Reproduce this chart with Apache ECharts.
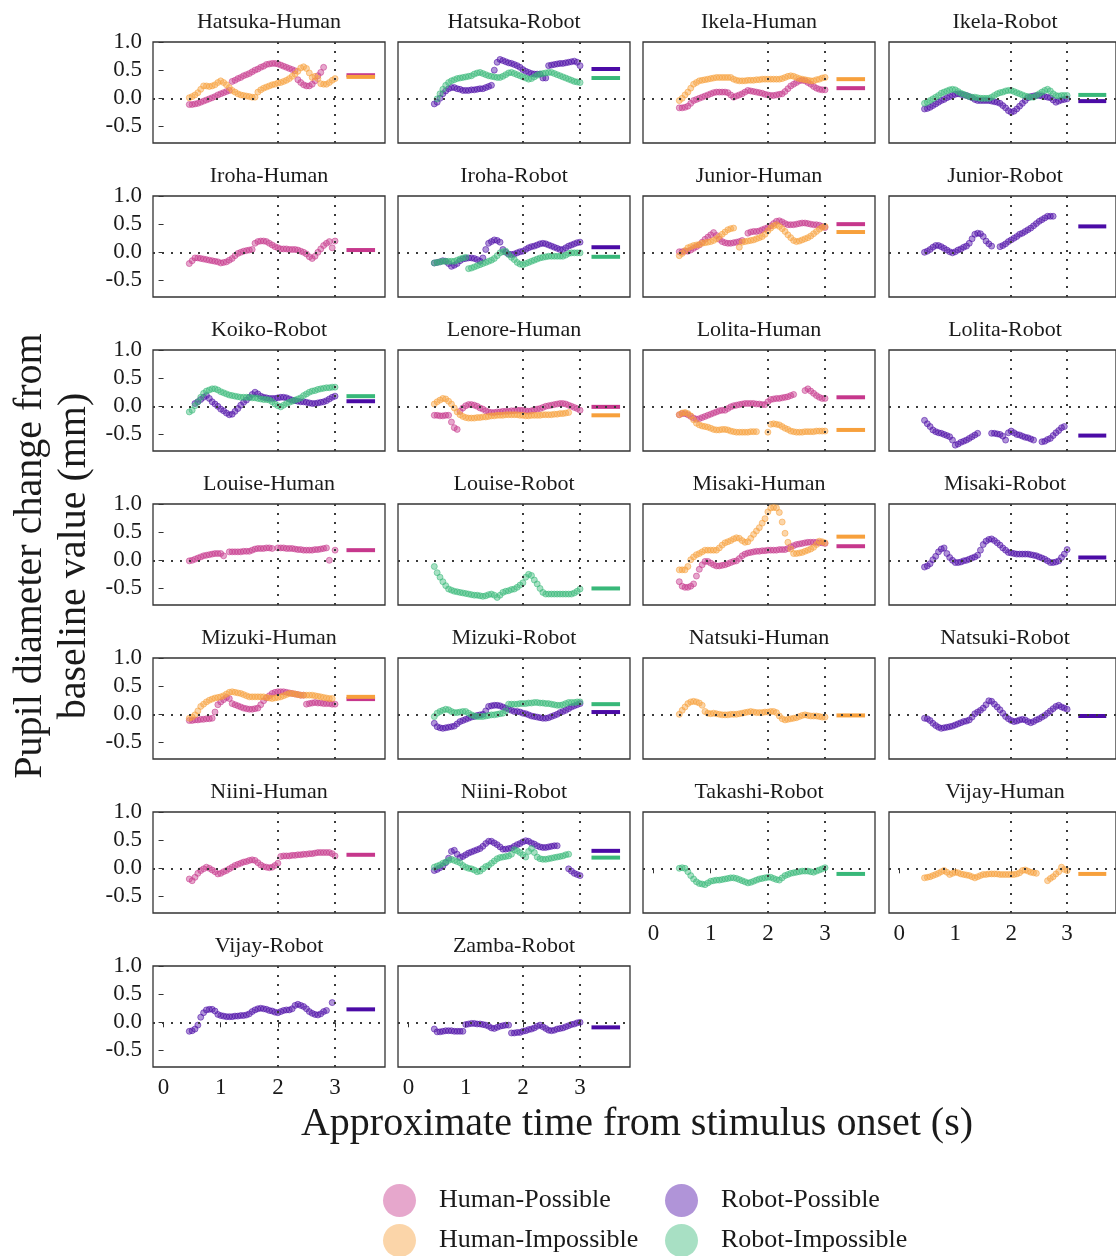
<!DOCTYPE html>
<html>
<head>
<meta charset="utf-8">
<script src="https://cdn.jsdelivr.net/npm/echarts@6/dist/echarts.min.js"></script>
<style>
html, body { margin: 0; padding: 0; background: #fff; }
#chart { width: 1116px; height: 1256px; }
</style>
</head>
<body>
<div id="chart"></div>
<script>
// sample times (s) shared by every trace
const times = [0.45, 0.5, 0.55, 0.6, 0.65, 0.7, 0.75, 0.8, 0.85, 0.9,
  0.95, 1, 1.05, 1.1, 1.15, 1.2, 1.25, 1.3, 1.35, 1.4,
  1.45, 1.5, 1.55, 1.6, 1.65, 1.7, 1.75, 1.8, 1.85, 1.9,
  1.95, 2, 2.05, 2.1, 2.15, 2.2, 2.25, 2.3, 2.35, 2.4,
  2.45, 2.5, 2.55, 2.6, 2.65, 2.7, 2.75, 2.8, 2.85, 2.9,
  2.95, 3]

const conditions = ["Human-Possible", "Human-Impossible", "Robot-Possible", "Robot-Impossible"]
const condColors = ["#c6378c", "#f7a03c", "#4b0ba6", "#38b879"]

const panelNames = ["Hatsuka-Human", "Hatsuka-Robot", "Ikela-Human", "Ikela-Robot",
  "Iroha-Human", "Iroha-Robot", "Junior-Human", "Junior-Robot",
  "Koiko-Robot", "Lenore-Human", "Lolita-Human", "Lolita-Robot",
  "Louise-Human", "Louise-Robot", "Misaki-Human", "Misaki-Robot",
  "Mizuki-Human", "Mizuki-Robot", "Natsuki-Human", "Natsuki-Robot",
  "Niini-Human", "Niini-Robot", "Takashi-Robot", "Vijay-Human",
  "Vijay-Robot", "Zamba-Robot"]

const yTicks = [-0.5, 0, 0.5, 1]
const xTicks = [0, 1, 2, 3]

// pupil change traces (mm), one value per entry of times, null = no sample
const hatsukaHumanHP = [-0.11, -0.11, -0.10, -0.09, -0.07, -0.05, -0.03, -0.01, 0.01, 0.03,
  0.06, 0.08, 0.10, 0.12, 0.14, 0.30, 0.32, 0.35, 0.37, 0.40,
  0.42, 0.44, 0.47, 0.50, 0.52, 0.55, 0.57, 0.60, 0.61, 0.62,
  0.62, 0.61, 0.59, 0.57, 0.55, 0.53, 0.51, 0.49, 0.33, 0.28,
  0.24, 0.22, 0.22, 0.25, 0.31, 0.40, 0.46, 0.55, null, null,
  null, null]
const hatsukaHumanHI = [0.01, 0.03, 0.06, 0.10, 0.16, 0.22, 0.22, 0.21, 0.22, 0.24,
  0.28, 0.31, 0.28, 0.24, 0.19, 0.14, 0.11, 0.08, 0.06, 0.05,
  0.04, 0.03, 0.02, 0.02, 0.11, 0.15, 0.18, 0.20, 0.22, 0.24,
  0.25, 0.27, 0.28, 0.30, 0.32, 0.35, 0.39, 0.43, 0.48, 0.54,
  0.56, 0.53, 0.45, 0.37, 0.39, 0.35, 0.26, 0.25, 0.25, 0.28,
  0.32, 0.35]
const hatsukaRobotRP = [-0.10, -0.07, 0.00, 0.08, 0.13, 0.17, 0.19, 0.19, 0.17, 0.16,
  0.14, 0.14, 0.14, 0.15, 0.15, 0.16, 0.17, 0.17, 0.19, 0.21,
  0.23, 0.50, 0.64, 0.69, 0.67, 0.65, 0.63, 0.62, 0.60, 0.58,
  0.55, 0.51, 0.48, 0.46, 0.44, 0.43, 0.43, 0.43, 0.36, 0.36,
  0.58, 0.59, 0.60, 0.61, 0.62, 0.62, 0.63, 0.64, 0.65, 0.66,
  0.64, 0.58]
const hatsukaRobotRI = [null, -0.01, 0.08, 0.16, 0.23, 0.28, 0.31, 0.33, 0.35, 0.36,
  0.37, 0.38, 0.39, 0.40, 0.43, 0.45, 0.46, 0.44, 0.42, 0.40,
  0.39, 0.38, 0.37, 0.37, 0.39, 0.42, 0.45, 0.46, 0.44, 0.42,
  0.40, 0.38, 0.36, 0.34, 0.35, 0.38, 0.41, 0.43, 0.44, 0.45,
  0.46, 0.46, 0.44, 0.42, 0.40, 0.38, 0.36, 0.34, 0.32, 0.30,
  0.29, 0.28]
const ikelaHumanHP = [-0.17, -0.17, -0.16, -0.14, -0.09, -0.04, -0.02, 0.00, 0.02, 0.04,
  0.06, 0.08, 0.10, 0.11, 0.11, 0.11, 0.11, 0.10, 0.06, 0.02,
  0.04, 0.06, 0.08, 0.11, 0.14, 0.13, 0.12, 0.11, 0.10, 0.09,
  0.07, 0.06, 0.05, 0.05, 0.06, 0.07, 0.08, 0.12, 0.17, 0.22,
  0.25, 0.28, 0.31, 0.32, 0.31, 0.28, 0.25, 0.21, 0.18, 0.16,
  0.15, 0.15]
const ikelaHumanHI = [-0.04, 0.00, 0.06, 0.11, 0.18, 0.25, 0.28, 0.31, 0.32, 0.33,
  0.34, 0.35, 0.36, 0.37, 0.37, 0.37, 0.37, 0.37, 0.37, 0.34,
  0.32, 0.31, 0.31, 0.31, 0.32, 0.32, 0.32, 0.33, 0.33, 0.34,
  0.34, 0.34, 0.34, 0.34, 0.34, 0.34, 0.35, 0.37, 0.39, 0.40,
  0.39, 0.37, 0.35, 0.34, 0.33, 0.32, 0.31, 0.31, 0.33, 0.34,
  0.36, 0.37]
const ikelaRobotRP = [-0.19, -0.18, -0.16, -0.13, -0.10, -0.07, -0.04, -0.02, 0.01, 0.03,
  0.05, 0.07, 0.08, 0.07, 0.06, 0.05, 0.03, 0.01, -0.02, -0.04,
  -0.04, -0.04, -0.04, -0.04, -0.05, -0.06, -0.07, -0.09, -0.13, -0.17,
  -0.22, -0.25, -0.23, -0.19, -0.14, -0.09, -0.04, 0.01, 0.03, 0.04,
  0.05, 0.05, 0.04, 0.03, 0.02, 0.01, -0.03, -0.07, -0.05, -0.03,
  -0.02, -0.01]
const ikelaRobotRI = [-0.09, -0.07, -0.04, -0.01, 0.02, 0.05, 0.09, 0.11, 0.13, 0.15,
  0.16, 0.15, 0.12, 0.09, 0.07, 0.05, 0.03, 0.02, 0.02, 0.01,
  0.00, 0.00, 0.00, 0.00, 0.02, 0.05, 0.08, 0.10, 0.11, 0.13,
  0.14, 0.14, 0.12, 0.10, 0.08, 0.06, 0.04, 0.03, 0.02, 0.02,
  0.05, 0.08, 0.11, 0.14, 0.16, 0.13, 0.08, 0.05, 0.04, 0.05,
  0.05, 0.05]
const irohaHumanHP = [-0.20, -0.15, -0.10, -0.10, -0.11, -0.12, -0.13, -0.14, -0.15, -0.16,
  -0.17, -0.19, -0.18, -0.17, -0.14, -0.11, -0.06, -0.02, 0.00, 0.02,
  0.03, 0.04, 0.05, 0.16, 0.19, 0.20, 0.20, 0.19, 0.16, 0.13,
  0.10, 0.08, 0.06, 0.06, 0.06, 0.05, 0.05, 0.05, 0.04, 0.02,
  0.00, -0.03, -0.08, -0.11, -0.07, 0.00, 0.06, 0.12, 0.16, 0.19,
  0.08, 0.20]
const irohaRobotRP = [-0.19, -0.18, -0.17, -0.15, -0.16, -0.20, -0.25, -0.23, -0.20, -0.15,
  -0.12, -0.11, -0.10, -0.10, -0.11, -0.13, -0.16, -0.10, 0.05, 0.16,
  0.19, 0.22, 0.21, 0.18, 0.05, 0.00, -0.03, -0.04, -0.03, -0.01,
  0.01, 0.02, 0.05, 0.08, 0.10, 0.11, 0.13, 0.15, 0.16, 0.15,
  0.13, 0.11, 0.09, 0.07, 0.05, 0.05, 0.08, 0.11, 0.13, 0.15,
  0.17, 0.18]
const irohaRobotRI = [-0.19, -0.18, -0.17, -0.16, -0.16, -0.16, -0.16, -0.16, -0.14, -0.12,
  -0.10, -0.09, -0.29, -0.28, -0.26, -0.24, -0.22, -0.20, -0.18, -0.16,
  -0.14, -0.11, -0.06, -0.01, 0.01, 0.02, -0.04, -0.09, -0.13, -0.18,
  -0.21, -0.22, -0.20, -0.18, -0.16, -0.14, -0.12, -0.10, -0.09, -0.08,
  -0.07, -0.07, -0.07, -0.07, -0.07, -0.07, -0.05, -0.02, -0.01, -0.01,
  -0.01, -0.01]
const juniorHumanHP = [0.01, 0.01, 0.02, 0.02, 0.04, 0.07, 0.10, 0.13, 0.18, 0.23,
  0.27, 0.31, 0.35, 0.30, 0.23, 0.19, 0.17, 0.16, 0.16, 0.17,
  0.18, 0.19, 0.21, null, 0.34, 0.36, 0.37, 0.37, 0.38, 0.40,
  0.42, 0.44, 0.47, 0.51, 0.55, 0.56, 0.54, 0.51, 0.49, 0.49,
  0.49, 0.50, 0.51, 0.52, 0.52, 0.51, 0.50, 0.49, 0.49, 0.48,
  0.46, 0.44]
const juniorHumanHI = [-0.06, -0.02, 0.03, 0.08, 0.10, 0.12, 0.13, 0.14, 0.16, 0.17,
  0.18, 0.19, 0.21, 0.24, 0.28, 0.32, 0.36, 0.40, 0.42, 0.43,
  null, 0.09, 0.18, 0.19, 0.20, 0.21, 0.22, 0.24, 0.26, 0.28,
  0.32, 0.38, 0.43, 0.47, 0.49, 0.46, 0.42, 0.37, 0.31, 0.26,
  0.21, 0.19, 0.20, 0.22, 0.24, 0.26, 0.29, 0.33, 0.37, 0.41,
  0.44, 0.46]
const juniorRobotRP = [0.00, 0.02, 0.05, 0.09, 0.12, 0.12, 0.10, 0.07, 0.04, 0.01,
  -0.01, 0.01, 0.04, 0.06, 0.09, 0.11, 0.16, 0.24, 0.32, 0.34,
  0.33, 0.28, 0.20, 0.15, 0.11, null, null, 0.10, 0.12, 0.15,
  0.19, 0.22, 0.25, 0.28, 0.32, 0.34, 0.37, 0.40, 0.43, 0.47,
  0.51, 0.55, 0.58, 0.61, 0.64, 0.64, 0.64, null, null, null,
  null, null]
const koikoRobotRP = [null, null, 0.05, 0.08, 0.12, 0.16, 0.19, 0.14, 0.08, 0.04,
  0.00, -0.05, -0.08, -0.12, -0.15, -0.14, -0.09, -0.04, 0.02, 0.07,
  0.11, 0.16, 0.21, 0.25, 0.22, 0.18, 0.16, 0.15, 0.14, 0.14,
  0.14, 0.15, 0.16, 0.16, 0.15, 0.13, 0.11, 0.10, 0.09, 0.08,
  0.08, 0.07, 0.06, 0.05, 0.05, 0.06, 0.07, 0.08, 0.10, 0.13,
  0.16, 0.18]
const koikoRobotRI = [-0.10, -0.07, 0.01, 0.08, 0.16, 0.23, 0.27, 0.29, 0.31, 0.31,
  0.29, 0.26, 0.24, 0.22, 0.20, 0.19, 0.18, 0.17, 0.16, 0.16,
  0.16, 0.16, 0.15, 0.15, 0.14, 0.13, 0.12, 0.12, 0.11, 0.08,
  0.04, 0.01, -0.01, 0.02, 0.05, 0.07, 0.09, 0.11, 0.13, 0.15,
  0.19, 0.22, 0.25, 0.27, 0.28, 0.30, 0.31, 0.32, 0.33, 0.33,
  0.34, 0.34]
const lenoreHumanHP = [-0.16, -0.16, -0.17, -0.17, -0.16, -0.16, -0.28, -0.38, -0.41, -0.09,
  -0.03, 0.01, 0.03, 0.03, 0.02, 0.00, -0.03, -0.05, -0.08, -0.10,
  -0.11, -0.11, -0.10, -0.10, -0.09, -0.09, -0.09, -0.08, -0.08, -0.07,
  -0.07, -0.07, -0.08, -0.09, -0.08, -0.06, -0.05, -0.04, -0.02, 0.00,
  0.01, 0.02, 0.03, 0.04, 0.05, 0.05, 0.04, 0.02, 0.00, -0.02,
  -0.04, -0.07]
const lenoreHumanHI = [0.04, 0.08, 0.11, 0.14, 0.13, 0.09, 0.04, -0.03, -0.10, -0.15,
  -0.18, -0.20, -0.21, -0.21, -0.21, -0.20, -0.20, -0.19, -0.19, -0.18,
  -0.17, -0.17, -0.16, -0.16, -0.16, -0.15, -0.15, -0.15, -0.15, -0.15,
  -0.16, -0.16, -0.17, -0.17, -0.16, -0.16, -0.16, -0.16, -0.15, -0.15,
  -0.15, -0.15, -0.14, -0.14, -0.13, -0.13, -0.12, -0.11, null, null,
  null, null]
const lolitaHumanHP = [-0.15, -0.13, -0.13, -0.15, -0.18, -0.21, -0.23, -0.22, -0.20, -0.18,
  -0.16, -0.14, -0.12, -0.10, -0.08, -0.07, -0.07, -0.04, -0.01, 0.01,
  0.02, 0.03, 0.04, 0.05, 0.05, 0.05, 0.05, 0.04, 0.04, 0.03,
  0.03, 0.08, 0.12, 0.13, 0.14, 0.14, 0.15, 0.16, 0.17, 0.19,
  0.21, null, null, null, 0.28, 0.31, 0.27, 0.23, 0.19, 0.16,
  0.14, 0.14]
const lolitaHumanHI = [-0.15, -0.12, -0.11, -0.13, -0.17, -0.24, -0.30, -0.33, -0.35, -0.36,
  -0.37, -0.39, -0.41, -0.42, -0.42, -0.41, -0.41, -0.42, -0.44, -0.45,
  -0.46, -0.46, -0.46, -0.46, -0.46, -0.45, -0.45, -0.45, null, null,
  null, -0.46, -0.32, -0.31, -0.32, -0.33, -0.36, -0.39, -0.41, -0.44,
  -0.45, -0.46, -0.46, -0.46, -0.45, -0.45, -0.45, -0.45, -0.44, -0.44,
  -0.44, -0.44]
const lolitaRobotRP = [-0.25, -0.31, -0.36, -0.42, -0.45, -0.47, -0.48, -0.50, -0.52, -0.54,
  -0.60, -0.69, -0.67, -0.64, -0.62, -0.60, -0.57, -0.54, -0.51, -0.48,
  null, null, null, null, -0.48, -0.48, -0.49, -0.50, -0.53, -0.60,
  -0.47, -0.44, -0.47, -0.50, -0.51, -0.53, -0.55, -0.56, -0.58, -0.60,
  null, null, -0.63, -0.62, -0.59, -0.57, -0.52, -0.47, -0.43, -0.38,
  -0.36, null]
const louiseHumanHP = [-0.01, 0.00, 0.02, 0.04, 0.06, 0.08, 0.09, 0.10, 0.11, 0.12,
  0.12, 0.12, 0.08, null, 0.15, 0.15, 0.15, 0.15, 0.15, 0.16,
  0.16, 0.16, 0.18, 0.20, 0.21, 0.21, 0.21, 0.22, 0.22, 0.21,
  null, 0.22, 0.22, 0.22, 0.21, 0.21, 0.21, 0.20, 0.19, 0.19,
  0.18, 0.18, 0.18, 0.18, 0.19, 0.19, 0.20, 0.21, 0.22, 0.00,
  null, 0.18]
const louiseRobotRI = [-0.11, -0.22, -0.30, -0.38, -0.45, -0.51, -0.53, -0.55, -0.56, -0.57,
  -0.58, -0.59, -0.60, -0.61, -0.62, -0.62, -0.63, -0.64, -0.63, -0.61,
  -0.60, -0.62, -0.66, -0.62, -0.57, -0.55, -0.54, -0.52, -0.51, -0.48,
  -0.44, -0.40, -0.30, -0.25, -0.27, -0.35, -0.42, -0.50, -0.57, -0.60,
  -0.60, -0.60, -0.60, -0.60, -0.60, -0.60, -0.60, -0.60, -0.60, -0.58,
  -0.55, -0.51]
const misakiHumanHP = [-0.38, -0.46, -0.48, -0.48, -0.46, -0.42, -0.28, -0.16, -0.08, -0.02,
  -0.02, -0.05, -0.08, -0.10, -0.10, -0.09, -0.08, -0.06, -0.04, -0.02,
  -0.01, 0.03, 0.08, 0.11, 0.13, 0.14, 0.15, 0.16, 0.16, 0.17,
  0.17, 0.18, 0.18, 0.18, 0.18, 0.19, 0.19, 0.19, 0.21, 0.24,
  0.26, 0.28, 0.29, 0.30, 0.31, 0.32, 0.32, 0.32, 0.32, 0.31,
  0.31, 0.30]
const misakiHumanHI = [-0.17, -0.17, -0.17, -0.11, 0.01, 0.06, 0.10, 0.12, 0.15, 0.18,
  0.18, 0.18, 0.18, 0.18, 0.22, 0.27, 0.31, 0.33, 0.35, 0.38,
  0.40, 0.39, 0.35, 0.32, 0.33, 0.39, 0.46, 0.52, 0.58, 0.66,
  0.74, 0.86, 0.93, 0.94, 0.93, 0.85, 0.68, 0.48, 0.32, 0.20,
  0.12, 0.12, 0.13, 0.14, 0.16, 0.18, 0.20, 0.23, 0.28, 0.34,
  0.33, 0.31]
const misakiRobotRP = [-0.12, -0.10, -0.06, 0.01, 0.07, 0.15, 0.20, 0.22, 0.12, 0.05,
  0.00, -0.04, -0.04, -0.03, -0.01, 0.00, 0.02, 0.04, 0.06, 0.09,
  0.18, 0.28, 0.34, 0.37, 0.38, 0.35, 0.31, 0.27, 0.22, 0.18,
  0.14, 0.13, 0.12, 0.11, 0.11, 0.11, 0.11, 0.11, 0.10, 0.09,
  0.08, 0.06, 0.04, 0.02, -0.01, -0.04, -0.04, -0.03, -0.01, 0.05,
  0.11, 0.19]
const mizukiHumanHP = [-0.11, -0.11, -0.10, -0.10, -0.09, -0.09, -0.08, -0.08, -0.07, 0.04,
  0.17, 0.22, 0.26, 0.30, 0.28, 0.19, 0.17, 0.15, 0.13, 0.11,
  0.10, 0.09, 0.09, 0.10, 0.11, 0.17, 0.24, 0.29, 0.33, 0.37,
  0.39, 0.40, 0.40, 0.40, 0.39, 0.38, 0.37, 0.36, 0.35, 0.34,
  0.34, 0.18, 0.19, 0.20, 0.21, 0.20, 0.20, 0.19, 0.19, 0.19,
  0.18, 0.18]
const mizukiHumanHI = [-0.07, -0.05, -0.01, 0.06, 0.14, 0.18, 0.22, 0.25, 0.27, 0.29,
  0.30, 0.31, 0.33, 0.36, 0.39, 0.40, 0.39, 0.38, 0.37, 0.35,
  0.33, 0.31, 0.31, 0.31, 0.31, 0.31, 0.31, 0.30, 0.29, 0.28,
  0.29, 0.30, 0.31, 0.33, 0.35, 0.37, 0.37, 0.36, 0.35, 0.34,
  0.34, 0.34, 0.34, 0.34, 0.33, 0.32, 0.31, 0.30, 0.29, 0.28,
  0.28, null]
const mizukiRobotRP = [-0.16, -0.22, -0.24, -0.25, -0.24, -0.23, -0.22, -0.21, -0.17, -0.13,
  -0.11, -0.09, -0.07, -0.05, -0.04, -0.02, -0.01, 0.00, 0.06, 0.14,
  0.15, 0.16, 0.16, 0.15, 0.13, 0.11, 0.09, 0.07, 0.05, 0.05,
  0.04, 0.02, 0.01, -0.01, -0.03, -0.04, -0.05, -0.06, -0.07, -0.07,
  -0.06, -0.04, -0.02, 0.00, 0.03, 0.05, 0.07, 0.10, 0.13, 0.15,
  0.17, 0.19]
const mizukiRobotRI = [-0.04, 0.02, 0.05, 0.07, 0.09, 0.08, 0.05, 0.03, 0.03, 0.04,
  0.05, 0.05, 0.02, -0.01, -0.03, -0.04, -0.04, -0.04, -0.03, -0.02,
  -0.01, -0.01, 0.00, 0.01, 0.02, 0.06, 0.18, 0.18, 0.18, 0.18,
  0.19, 0.19, 0.19, 0.20, 0.20, 0.21, 0.21, 0.20, 0.20, 0.19,
  0.19, 0.18, 0.17, 0.16, 0.16, 0.17, 0.19, 0.21, 0.21, 0.21,
  0.22, 0.22]
const natsukiHumanHI = [0.00, 0.07, 0.13, 0.19, 0.22, 0.23, 0.22, 0.20, 0.16, 0.05,
  0.02, 0.01, 0.02, 0.01, 0.00, -0.01, -0.01, -0.01, 0.00, 0.00,
  0.00, 0.01, 0.02, 0.03, 0.04, 0.05, 0.04, 0.03, 0.03, 0.03,
  0.04, 0.04, 0.05, 0.05, 0.03, -0.03, -0.08, -0.10, -0.09, -0.08,
  -0.07, -0.06, -0.04, -0.02, -0.01, -0.02, -0.03, -0.03, -0.03, -0.04,
  -0.05, -0.05]
const natsukiRobotRP = [-0.07, -0.08, -0.11, -0.16, -0.20, -0.23, -0.25, -0.24, -0.23, -0.22,
  -0.21, -0.19, -0.17, -0.15, -0.13, -0.12, -0.10, -0.05, 0.01, 0.04,
  0.07, 0.11, 0.17, 0.24, 0.23, 0.18, 0.13, 0.08, 0.02, -0.04,
  -0.08, -0.11, -0.13, -0.12, -0.10, -0.09, -0.10, -0.13, -0.15, -0.13,
  -0.10, -0.08, -0.05, -0.02, 0.02, 0.06, 0.10, 0.14, 0.16, 0.13,
  0.11, 0.09]
const niiniHumanHP = [-0.19, -0.22, -0.16, -0.09, -0.04, -0.01, 0.02, 0.00, -0.03, -0.06,
  -0.10, -0.09, -0.06, -0.04, -0.01, 0.02, 0.05, 0.07, 0.09, 0.11,
  0.12, 0.14, 0.15, 0.14, 0.10, 0.06, 0.03, 0.02, 0.01, 0.02,
  0.05, 0.09, 0.21, 0.22, 0.22, 0.22, 0.23, 0.23, 0.24, 0.24,
  0.25, 0.25, 0.26, 0.26, 0.27, 0.28, 0.28, 0.28, 0.28, 0.28,
  0.26, 0.22]
const niiniRobotRP = [-0.04, -0.02, 0.01, 0.04, 0.10, 0.18, 0.30, 0.32, 0.25, 0.19,
  0.21, 0.24, 0.27, 0.29, 0.31, 0.33, 0.35, 0.39, 0.44, 0.48,
  0.48, 0.45, 0.42, 0.38, 0.34, 0.34, 0.35, 0.36, 0.39, 0.42,
  0.44, 0.47, 0.49, 0.48, 0.45, 0.43, 0.40, 0.38, 0.37, 0.37,
  0.38, 0.39, 0.40, 0.40, null, null, null, -0.01, -0.05, -0.09,
  -0.11, -0.13]
const niiniRobotRI = [0.02, 0.04, 0.06, 0.09, 0.11, 0.14, 0.16, 0.14, 0.12, 0.10,
  0.05, 0.02, 0.00, -0.01, -0.03, -0.06, -0.05, -0.01, 0.03, 0.05,
  0.09, 0.13, 0.17, 0.19, 0.20, 0.21, 0.22, 0.25, 0.33, 0.31,
  0.28, 0.24, 0.20, 0.30, 0.35, 0.28, 0.20, 0.17, 0.16, 0.16,
  0.17, 0.18, 0.19, 0.20, 0.21, 0.22, 0.24, 0.25, null, null,
  null, null]
const takashiRobotRI = [0.00, 0.01, 0.00, -0.06, -0.13, -0.19, -0.24, -0.27, -0.28, -0.29,
  -0.26, -0.23, -0.22, -0.21, -0.21, -0.20, -0.19, -0.18, -0.17, -0.17,
  -0.18, -0.20, -0.22, -0.24, -0.26, -0.25, -0.23, -0.21, -0.19, -0.18,
  -0.17, -0.16, -0.16, -0.18, -0.20, -0.21, -0.17, -0.13, -0.11, -0.09,
  -0.08, -0.07, -0.06, -0.05, -0.05, -0.05, -0.06, -0.07, -0.05, -0.03,
  -0.01, 0.01]
const vijayHumanHI = [-0.17, -0.16, -0.15, -0.13, -0.11, -0.09, -0.06, -0.04, -0.07, -0.11,
  -0.09, -0.07, -0.08, -0.10, -0.11, -0.12, -0.13, -0.15, -0.17, -0.15,
  -0.13, -0.11, -0.11, -0.10, -0.10, -0.10, -0.10, -0.11, -0.11, -0.11,
  -0.11, -0.11, -0.11, -0.10, -0.08, -0.04, -0.03, -0.05, -0.07, -0.08,
  -0.09, null, null, null, -0.22, -0.18, -0.15, -0.10, -0.06, 0.02,
  -0.02, -0.04]
const vijayRobotRP = [-0.16, -0.15, -0.12, -0.05, 0.09, 0.17, 0.22, 0.23, 0.23, 0.20,
  0.14, 0.12, 0.11, 0.10, 0.10, 0.10, 0.11, 0.11, 0.12, 0.12,
  0.13, 0.15, 0.19, 0.22, 0.24, 0.25, 0.24, 0.23, 0.21, 0.20,
  0.18, 0.17, 0.19, 0.21, 0.22, 0.22, 0.24, 0.30, 0.32, 0.30,
  0.28, 0.24, 0.19, 0.16, 0.14, 0.13, 0.15, 0.19, 0.21, null,
  0.35, null]
const zambaRobotRP = [-0.12, -0.17, -0.17, -0.16, -0.15, -0.15, -0.15, -0.16, -0.16, -0.16,
  -0.16, -0.04, -0.03, -0.02, -0.02, -0.03, -0.03, -0.04, -0.05, -0.07,
  -0.10, -0.11, -0.09, -0.07, -0.06, -0.05, -0.05, -0.19, -0.19, -0.18,
  -0.18, -0.16, -0.15, -0.13, -0.12, -0.10, -0.07, -0.05, -0.08, -0.11,
  -0.14, -0.15, -0.14, -0.12, -0.11, -0.10, -0.08, -0.06, -0.04, -0.03,
  -0.01, 0.00]

// which traces belong to each panel (in drawing order)
const panelSeries = [
  [["Human-Possible", hatsukaHumanHP], ["Human-Impossible", hatsukaHumanHI]],
  [["Robot-Possible", hatsukaRobotRP], ["Robot-Impossible", hatsukaRobotRI]],
  [["Human-Possible", ikelaHumanHP], ["Human-Impossible", ikelaHumanHI]],
  [["Robot-Possible", ikelaRobotRP], ["Robot-Impossible", ikelaRobotRI]],
  [["Human-Possible", irohaHumanHP]],
  [["Robot-Possible", irohaRobotRP], ["Robot-Impossible", irohaRobotRI]],
  [["Human-Possible", juniorHumanHP], ["Human-Impossible", juniorHumanHI]],
  [["Robot-Possible", juniorRobotRP]],
  [["Robot-Possible", koikoRobotRP], ["Robot-Impossible", koikoRobotRI]],
  [["Human-Possible", lenoreHumanHP], ["Human-Impossible", lenoreHumanHI]],
  [["Human-Possible", lolitaHumanHP], ["Human-Impossible", lolitaHumanHI]],
  [["Robot-Possible", lolitaRobotRP]],
  [["Human-Possible", louiseHumanHP]],
  [["Robot-Impossible", louiseRobotRI]],
  [["Human-Possible", misakiHumanHP], ["Human-Impossible", misakiHumanHI]],
  [["Robot-Possible", misakiRobotRP]],
  [["Human-Possible", mizukiHumanHP], ["Human-Impossible", mizukiHumanHI]],
  [["Robot-Possible", mizukiRobotRP], ["Robot-Impossible", mizukiRobotRI]],
  [["Human-Impossible", natsukiHumanHI]],
  [["Robot-Possible", natsukiRobotRP]],
  [["Human-Possible", niiniHumanHP]],
  [["Robot-Possible", niiniRobotRP], ["Robot-Impossible", niiniRobotRI]],
  [["Robot-Impossible", takashiRobotRI]],
  [["Human-Impossible", vijayHumanHI]],
  [["Robot-Possible", vijayRobotRP]],
  [["Robot-Possible", zambaRobotRP]]
]

// mean change per trace, same order as panelSeries
const panelMeans = [
  [0.41, 0.38], [0.52, 0.36], [0.18, 0.34], [-0.05, 0.06],
  [0.04], [0.09, -0.08], [0.50, 0.36], [0.46],
  [0.09, 0.18], [-0.01, -0.16], [0.16, -0.42], [-0.52],
  [0.18], [-0.50], [0.25, 0.42], [0.05],
  [0.27, 0.31], [0.04, 0.18], [-0.02], [-0.03],
  [0.24], [0.31, 0.19], [-0.10], [-0.10],
  [0.23], [-0.09]
]

const font = '"Liberation Serif", "Times New Roman", serif'
const colLeft = [153, 398, 643, 889]
const rowTop = [42, 196, 350, 504, 658, 812, 966]
const panelW = 232
const panelH = 101
const legendPos = [[383, 1184], [383, 1224], [665, 1184], [665, 1224]]

const chart = echarts.init(document.getElementById("chart"))
const alpha = echarts.color.modifyAlpha

let grid = []
let xAxis = []
let yAxis = []
let series = []
let graphic = []

panelNames.forEach((name, i) => {
	let r = Math.floor(i / 4)
	let c = i % 4
	let showX = i >= 22
	let showY = c === 0

	grid.push({
		left: colLeft[c],
		top: rowTop[r],
		width: panelW,
		height: panelH,
		show: true,
		borderColor: "#333",
		borderWidth: 1.3,
		backgroundColor: "#fff"
	})
	xAxis.push({
		type: "value",
		gridIndex: i,
		min: -0.185,
		max: 3.874,
		axisLine: { show: false },
		splitLine: { show: false },
		axisTick: { show: showX, customValues: xTicks, length: 5, lineStyle: { color: "#333" } },
		axisLabel: { show: showX, customValues: xTicks, margin: 9, fontFamily: font, fontSize: 23, color: "#1a1a1a" }
	})
	yAxis.push({
		type: "value",
		gridIndex: i,
		min: -0.794,
		max: 1.0,
		axisLine: { show: false },
		splitLine: { show: false },
		axisTick: { show: showY, customValues: yTicks, length: 5, lineStyle: { color: "#333" } },
		axisLabel: {
			show: showY,
			customValues: yTicks,
			margin: 11,
			fontFamily: font,
			fontSize: 23,
			color: "#1a1a1a",
			formatter: (v) => v.toFixed(1)
		}
	})
	graphic.push({
		type: "text",
		x: colLeft[c] + panelW / 2,
		y: rowTop[r] - 20,
		style: {
			text: name,
			fontFamily: font,
			fontSize: 22,
			fill: "#1a1a1a",
			textAlign: "center",
			textVerticalAlign: "middle"
		}
	})

	// dotted reference lines at y = 0, x = 2, x = 3
	series.push({
		type: "line",
		name: "ref",
		xAxisIndex: i,
		yAxisIndex: i,
		data: [],
		silent: true,
		z: 1,
		markLine: {
			silent: true,
			symbol: ["none", "none"],
			label: { show: false },
			lineStyle: { color: "#3a3a3a", width: 2, type: [2, 7] },
			data: [{ yAxis: 0 }, { xAxis: 2 }, { xAxis: 3 }]
		}
	})

	panelSeries[i].forEach(([cond, vals], k) => {
		let color = condColors[conditions.indexOf(cond)]
		let pts = []
		vals.forEach((v, j) => {
			if (v !== null) pts.push([times[j], v])
		})
		series.push({
			type: "scatter",
			name: cond,
			xAxisIndex: i,
			yAxisIndex: i,
			data: pts,
			symbolSize: 6,
			itemStyle: { color: alpha(color, 0.55), borderColor: alpha(color, 0.85), borderWidth: 0.8 },
			silent: true,
			z: 2
		})
		let m = panelMeans[i][k]
		series.push({
			type: "line",
			name: "mean " + cond,
			xAxisIndex: i,
			yAxisIndex: i,
			data: [[3.2, m], [3.7, m]],
			showSymbol: false,
			lineStyle: { color: color, width: 4 },
			silent: true,
			z: 3
		})
	})
})

graphic.push({
	type: "text",
	x: 637,
	y: 1124,
	style: {
		text: "Approximate time from stimulus onset (s)",
		fontFamily: font,
		fontSize: 40,
		fill: "#1a1a1a",
		textAlign: "center",
		textVerticalAlign: "middle"
	}
})
graphic.push({
	type: "text",
	x: 30,
	y: 556,
	rotation: Math.PI / 2,
	style: {
		text: "Pupil diameter change from",
		fontFamily: font,
		fontSize: 40,
		fill: "#1a1a1a",
		textAlign: "center",
		textVerticalAlign: "middle"
	}
})
graphic.push({
	type: "text",
	x: 74,
	y: 556,
	rotation: Math.PI / 2,
	style: {
		text: "baseline value (mm)",
		fontFamily: font,
		fontSize: 40,
		fill: "#1a1a1a",
		textAlign: "center",
		textVerticalAlign: "middle"
	}
})

// one legend per condition so they sit in a 2 x 2 block
let legend = conditions.map((cond, k) => ({
	left: legendPos[k][0],
	top: legendPos[k][1],
	padding: 0,
	icon: "circle",
	itemWidth: 33,
	itemHeight: 33,
	data: [{ name: cond, itemStyle: { color: alpha(condColors[k], 0.55), borderWidth: 0 } }],
	textStyle: { fontFamily: font, fontSize: 26, color: "#1a1a1a", padding: [0, 0, 0, 18] }
}))

let option = {
	animation: false,
	backgroundColor: "#fff",
	grid: grid,
	xAxis: xAxis,
	yAxis: yAxis,
	series: series,
	graphic: graphic,
	legend: legend
}
chart.setOption(option)
</script>
</body>
</html>
